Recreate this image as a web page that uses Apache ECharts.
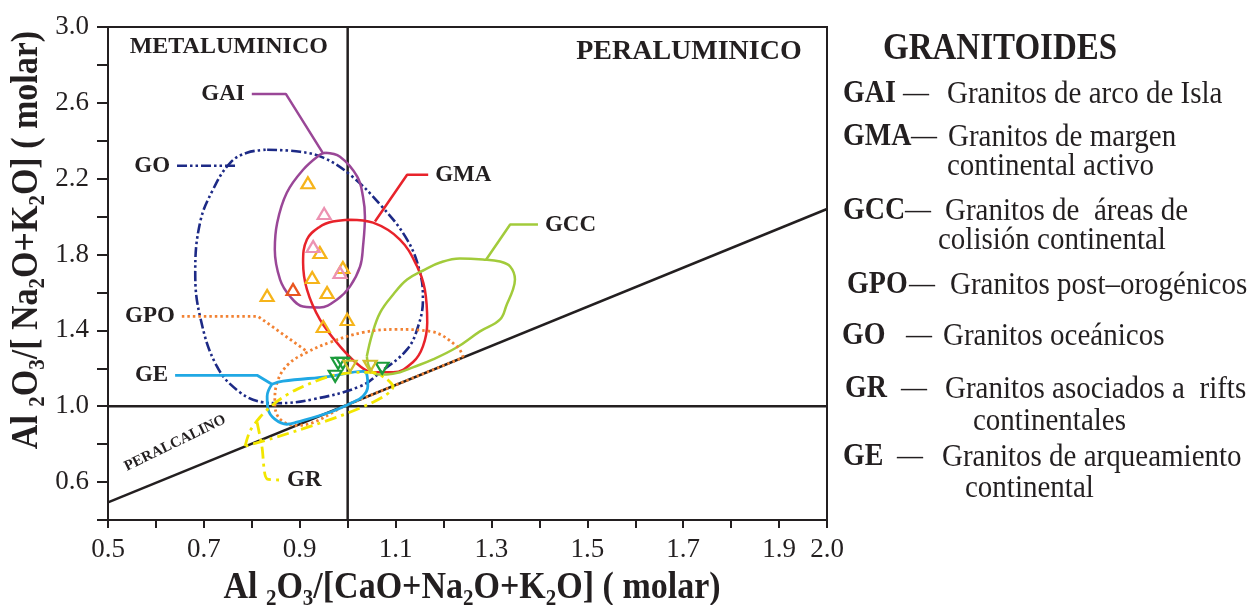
<!DOCTYPE html>
<html>
<head>
<meta charset="utf-8">
<script src="https://cdn.jsdelivr.net/npm/echarts@6/dist/echarts.min.js"></script>
<style>
  html, body { margin: 0; padding: 0; background: #ffffff; }
  #chart { width: 1248px; height: 605px; }
</style>
</head>
<body>
<div id="chart"></div>
<script>
// Shand index diagram: A/CNK (x) vs A/NK (y), granitoid tectonic fields

const xTickLabels = [0.5, 0.7, 0.9, 1.1, 1.3, 1.5, 1.7, 1.9, 2.0];
const yTickLabels = [0.6, 1.0, 1.4, 1.8, 2.2, 2.6, 3.0];

// Reference boundaries
const lineACNK1 = [[1.0, 0.4], [1.0, 3.0]];
const lineANK1 = [[0.5, 1.0], [2.0, 1.0]];
const linePeralkaline = [[0.5, 0.493], [2.0, 2.04]];

// Field outlines [A/CNK, A/NK]
const fieldGO = [[0.832,2.353],[0.901,2.342],[0.949,2.311],[1.005,2.221],[1.068,2.063],[1.124,1.879],[1.151,1.705],[1.157,1.563],[1.147,1.421],[1.124,1.300],[1.068,1.179],[1.026,1.105],[0.928,1.037],[0.853,1.016],[0.823,1.021],[0.775,1.074],[0.727,1.211],[0.692,1.474],[0.682,1.705],[0.692,1.968],[0.719,2.142],[0.755,2.284],[0.790,2.337],[0.832,2.353]];
const leaderGO = [[0.644,2.268],[0.769,2.268]];

const fieldGAI = [[0.953,2.337],[0.984,2.316],[1.020,2.211],[1.032,2.105],[1.036,2.000],[1.032,1.842],[1.026,1.737],[1.005,1.632],[0.978,1.563],[0.942,1.521],[0.907,1.526],[0.880,1.579],[0.859,1.668],[0.848,1.826],[0.853,1.968],[0.873,2.126],[0.907,2.247],[0.942,2.326],[0.953,2.337]];
const leaderGAI = [[0.800,2.647],[0.871,2.647],[0.949,2.332]];

const fieldGMA = [[1.005,1.984],[1.053,1.968],[1.109,1.879],[1.145,1.737],[1.161,1.616],[1.166,1.442],[1.157,1.316],[1.136,1.232],[1.095,1.179],[1.053,1.179],[1.026,1.211],[0.984,1.316],[0.942,1.458],[0.915,1.616],[0.907,1.758],[0.915,1.879],[0.942,1.947],[0.969,1.974],[1.005,1.984]];
const leaderGMA = [[1.057,1.974],[1.124,2.221],[1.168,2.221]];

const fieldGCC = [[1.040,1.263],[1.051,1.379],[1.068,1.495],[1.095,1.589],[1.124,1.668],[1.161,1.721],[1.193,1.758],[1.234,1.779],[1.282,1.774],[1.318,1.763],[1.339,1.737],[1.349,1.668],[1.345,1.616],[1.332,1.537],[1.318,1.458],[1.276,1.395],[1.228,1.311],[1.178,1.247],[1.136,1.205],[1.109,1.179],[1.082,1.168],[1.063,1.168],[1.047,1.195],[1.040,1.263]];
const leaderGCC = [[1.289,1.774],[1.339,1.958],[1.397,1.958]];

const fieldGPO = [[1.241,1.257],[1.228,1.316],[1.172,1.395],[1.103,1.405],[1.032,1.389],[0.963,1.337],[0.915,1.284],[0.876,1.221],[0.853,1.126],[0.848,1.021],[0.859,0.932],[0.894,0.899],[1.005,1.014],[1.109,1.121],[1.241,1.257]];
const leaderGPO = [[0.654,1.474],[0.813,1.474],[0.915,1.289]];

const fieldGE = [[0.842,1.116],[0.865,1.132],[0.963,1.158],[1.032,1.184],[1.040,1.168],[1.042,1.105],[1.032,1.053],[1.011,1.021],[0.963,0.968],[0.894,0.916],[0.873,0.905],[0.848,0.932],[0.834,0.984],[0.832,1.053],[0.842,1.116]];
const leaderGE = [[0.640,1.163],[0.811,1.163],[0.842,1.116]];

const fieldGR = [[0.786,0.789],[0.796,0.868],[0.817,0.942],[0.838,0.995],[0.859,1.037],[0.894,1.089],[0.963,1.158],[1.026,1.179],[1.051,1.179],[1.082,1.142],[1.095,1.105],[0.786,0.789]];
const leaderGR = [[0.811,0.916],[0.821,0.789],[0.832,0.616],[0.859,0.611]];

// Samples
const samplesYellow = [[0.917,2.179],[0.942,1.811],[0.990,1.732],[0.926,1.679],[0.957,1.600],[0.832,1.584],[0.999,1.458],[0.949,1.421]];
const samplesPink = [[0.951,2.016],[0.928,1.842],[0.984,1.705]];
const samplesOrange = [[0.886,1.616]];
const samplesGreen = [[0.980,1.226],[0.990,1.226],[0.974,1.158],[1.072,1.200]];
const samplesOlive = [[1.005,1.211],[1.047,1.211]];

// Field labels anchored at leader ends
const fieldLabelText = ['GAI', 'GO', 'GMA', 'GCC', 'GPO', 'GE', 'GR'];
const fieldLabelAt = [[0.800,2.647],[0.644,2.268],[1.168,2.221],[1.397,1.958],[0.654,1.474],[0.640,1.163],[0.859,0.611]];
const fieldLabelSide = ['left', 'left', 'right', 'right', 'left', 'left', 'right'];

// Domain names
const domainText = ['METALUMINICO', 'PERALUMINICO', 'PERALCALINO'];
const domainAt = [[0.752,2.895],[1.712,2.868],[0.640,0.805]];

// Key
const legendTitle = 'GRANITOIDES';
const legendAbbr = ['GAI', 'GMA', 'GCC', 'GPO', 'GO', 'GR', 'GE'];
const legendDesc = [
  ['Granitos de arco de Isla'],
  ['Granitos de margen', 'continental activo'],
  ['Granitos de  áreas de', 'colisión continental'],
  ['Granitos post–orogénicos'],
  ['Granitos oceánicos'],
  ['Granitos asociados a  rifts', 'continentales'],
  ['Granitos de arqueamiento', 'continental']
];

// ---- styling / layout ----
const SERIF = '"Liberation Serif", "Times New Roman", serif';
const INK = '#231f20';
const TEXT_SCALE_Y = 1.12;

const keyRowY = [94, 137, 211, 285, 336, 389, 457];
const keyAbbrX = [843, 843, 843, 847, 842, 845, 843];
const keyDashX = [903, 911, 905, 909, 906, 901, 897];
const keyDescX = [947, 948, 945, 950, 943, 945, 942];
const keyLine2 = [null, [947, 166], [938, 240], null, null, [973, 421], [965, 488]];

function fmtTick(list) {
  return function (v) {
    const k = Math.round(v * 10);
    return list.some(t => Math.round(t * 10) === k) ? v.toFixed(1) : '';
  };
}

function lineSeries(data, color, width, type, smooth, z) {
  return {
    type: 'line', data: data, symbol: 'none', showSymbol: false, silent: true,
    smooth: smooth, clip: false, z: z || 2,
    lineStyle: { color: color, width: width, type: type, cap: 'butt', opacity: 1 }
  };
}

function markSeries(data, color, rotate) {
  return {
    type: 'scatter', data: data, symbol: 'triangle', symbolSize: [13, 11],
    symbolRotate: rotate, silent: true, z: 5,
    itemStyle: { color: 'rgba(255,255,255,0)', borderColor: color, borderWidth: 2.2, opacity: 1 }
  };
}

const C_GO = '#1d2a86', C_GAI = '#9a4797', C_GMA = '#e8232b', C_GCC = '#a2cb3b',
      C_GPO = '#f28233', C_GE = '#20a8e4', C_GR = '#f2e600';
const dashGO = [10, 3, 2.5, 3, 2.5, 3];
const dashGR = [12, 5, 3, 5];
const dotGPO = [2.5, 3];

const series = [
  lineSeries(lineACNK1, INK, 2.5, 'solid', false, 1),
  lineSeries(lineANK1, INK, 2.5, 'solid', false, 1),
  lineSeries(linePeralkaline, INK, 2.5, 'solid', false, 1),

  lineSeries(fieldGO, C_GO, 2.6, dashGO, 0.4),
  lineSeries(leaderGO, C_GO, 2.6, dashGO, false),
  lineSeries(fieldGAI, C_GAI, 2.5, 'solid', 0.4),
  lineSeries(leaderGAI, C_GAI, 2.5, 'solid', false),
  lineSeries(fieldGMA, C_GMA, 2.5, 'solid', 0.4),
  lineSeries(leaderGMA, C_GMA, 2.5, 'solid', false),
  lineSeries(fieldGCC, C_GCC, 2.5, 'solid', 0.4),
  lineSeries(leaderGCC, C_GCC, 2.5, 'solid', false),
  lineSeries(fieldGPO, C_GPO, 2.8, dotGPO, 0.4),
  lineSeries(leaderGPO, C_GPO, 2.8, dotGPO, false),
  lineSeries(fieldGE, C_GE, 2.8, 'solid', 0.4),
  lineSeries(leaderGE, C_GE, 2.8, 'solid', false),
  lineSeries(fieldGR, C_GR, 2.8, dashGR, 0.3),
  lineSeries(leaderGR, C_GR, 2.8, dashGR, 0.3),

  markSeries(samplesYellow, '#f6b41a', 0),
  markSeries(samplesPink, '#ec92b2', 0),
  markSeries(samplesOrange, '#e9551f', 0),
  markSeries(samplesGreen, '#1c9c3c', 180),
  markSeries(samplesOlive, '#d2bf2c', 180),

  {
    type: 'scatter', symbolSize: 0, silent: true, z: 6,
    itemStyle: { opacity: 1 },
    data: fieldLabelText.map((t, i) => ({
      value: fieldLabelAt[i],
      label: {
        show: true, formatter: t, position: fieldLabelSide[i], distance: 7,
        fontFamily: SERIF, fontWeight: 'bold', fontSize: 23, color: INK, opacity: 1
      }
    })).concat(domainText.map((t, i) => ({
      value: domainAt[i],
      label: {
        show: true, formatter: t, position: 'inside',
        rotate: i === 2 ? 26 : 0,
        fontFamily: SERIF, fontWeight: 'bold',
        fontSize: [24, 28, 15][i], color: INK, opacity: 1
      }
    })))
  }
];

// text blocks: axis titles and key
const richBold = (size) => ({
  b: { fontFamily: SERIF, fontWeight: 'bold', fontSize: size, fill: INK, lineHeight: size + 6 },
  s: { fontFamily: SERIF, fontWeight: 'bold', fontSize: Math.round(size * 0.62), fill: INK,
       lineHeight: Math.round(size * 0.62), verticalAlign: 'bottom' }
});

const graphic = [
  {
    type: 'text', x: 472, y: 588, scaleY: TEXT_SCALE_Y, silent: true,
    style: {
      text: '{b|Al }{s|2}{b|O}{s|3}{b|/[CaO+Na}{s|2}{b|O+K}{s|2}{b|O] ( molar)}',
      align: 'center', verticalAlign: 'middle', rich: richBold(34)
    }
  },
  {
    type: 'text', x: 27, y: 240, rotation: Math.PI / 2, scaleY: TEXT_SCALE_Y, silent: true,
    style: {
      text: '{b|Al }{s|2}{b|O}{s|3}{b|/[ Na}{s|2}{b|O+K}{s|2}{b|O] ( molar)}',
      align: 'center', verticalAlign: 'middle', rich: richBold(34)
    }
  },
  {
    type: 'text', x: 883, y: 49, scaleY: TEXT_SCALE_Y, silent: true,
    style: { text: legendTitle, align: 'left', verticalAlign: 'middle',
             font: 'bold 33px ' + SERIF, fill: INK }
  }
];

function keyText(x, y, text, font) {
  return {
    type: 'text', x: x, y: y, scaleY: TEXT_SCALE_Y, silent: true,
    style: { text: text, align: 'left', verticalAlign: 'middle', font: font, fill: INK }
  };
}

legendAbbr.forEach((abbr, i) => {
  graphic.push(keyText(keyAbbrX[i], keyRowY[i], abbr, 'bold 28px ' + SERIF));
  graphic.push(keyText(keyDashX[i], keyRowY[i], '—', '26px ' + SERIF));
  graphic.push(keyText(keyDescX[i], keyRowY[i], legendDesc[i][0], '29px ' + SERIF));
  if (legendDesc[i].length > 1) {
    graphic.push(keyText(keyLine2[i][0], keyLine2[i][1], legendDesc[i][1], '29px ' + SERIF));
  }
});

const chart = echarts.init(document.getElementById('chart'), null, { renderer: 'canvas' });
chart.setOption({
  animation: false,
  backgroundColor: '#ffffff',
  grid: { left: 108, right: 421, top: 27, bottom: 85, show: true, borderColor: INK, borderWidth: 2 },
  xAxis: {
    type: 'value', min: 0.5, max: 2.0, interval: 0.1,
    axisLine: { show: true, onZero: false, lineStyle: { color: INK, width: 2 } },
    axisTick: { show: true, inside: false, length: 8, lineStyle: { color: INK, width: 2 } },
    splitLine: { show: false },
    axisLabel: { formatter: fmtTick(xTickLabels), margin: 16, fontFamily: SERIF, fontSize: 27, color: INK,
                 showMinLabel: true, showMaxLabel: true, hideOverlap: false }
  },
  yAxis: {
    type: 'value', min: 0.4, max: 3.0, interval: 0.2,
    axisLine: { show: true, onZero: false, lineStyle: { color: INK, width: 2 } },
    axisTick: { show: true, inside: false, length: 11, lineStyle: { color: INK, width: 2 } },
    splitLine: { show: false },
    axisLabel: { formatter: fmtTick(yTickLabels), margin: 19, fontFamily: SERIF, fontSize: 27, color: INK,
                 showMinLabel: true, showMaxLabel: true }
  },
  series: series,
  graphic: graphic
});
</script>
</body>
</html>
